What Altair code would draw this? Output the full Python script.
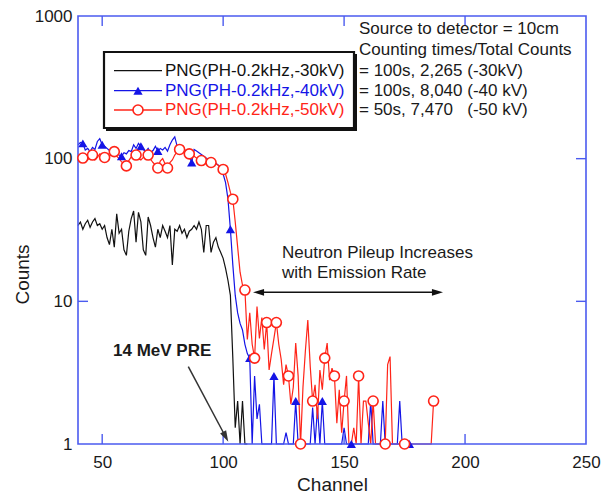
import altair as alt
import pandas as pd

# ---------------- data ----------------
black_ch = list(range(40, 111))
black_counts = [34, 36, 32, 35, 37, 33, 36, 38, 34, 35,
                32, 34, 28, 25, 32, 24, 41, 30, 32, 23,
                21, 31, 38, 43, 26, 42, 36, 23, 21, 39,
                34, 28, 24, 32, 28, 34, 31, 28, 34, 18,
                32, 31, 34, 30, 32, 28, 31, 32, 34, 32,
                36, 32, 22, 34, 34, 22, 26, 28, 24, 22,
                20, 17, 14, 11, 4, 1.3, 2, 1, 2, 1, 1]

blue_ch = list(range(40, 178))
blue_counts = [125, 130, 128, 115, 118, 112, 120, 116, 132, 138,
               125, 122, 118, 114, 110, 112, 108, 106, 104, 110,
               108, 114, 112, 125, 118, 128, 122, 116, 112, 118,
               110, 114, 122, 113, 118, 115, 120, 113, 125, 135,
               142, 122, 125, 118, 116, 110, 104, 94, 116, 113,
               110, 107, 104, 101, 99, 98, 96, 93, 90, 86,
               78, 68, 52, 32, 18, 11, 8.3, 7, 6.3, 5,
               4.3, 4, 1, 3, 1.5, 1.9, 1, 1, 1, 1,
               1, 3, 1, 1, 1, 1, 1.2, 1, 1, 1,
               2, 1, 1, 1, 1, 1, 1, 1.8, 1, 1.8,
               1, 2, 1, 1, 1, 1, 1, 1, 1, 1,
               1.3, 1, 1, 1, 1, 1, 1, 1, 1, 1,
               1, 2, 1, 1, 1, 1, 2, 1, 1, 1,
               1, 1, 1, 2, 1, 1, 1, 1]
blue_marker_ch = [42, 50, 58, 66, 73, 87, 103, 111, 121, 130, 141, 153, 177]

red_ch = list(range(40, 188))
red_counts = [96, 100, 101, 96, 98, 104, 106, 98, 102, 108,
              103, 102, 100, 104, 108, 112, 104, 100, 95, 92,
              89, 97, 103, 106, 106, 100, 98, 102, 104, 106,
              99, 94, 90, 86, 96, 100, 92, 86, 94, 98,
              106, 112, 116, 112, 110, 108, 108, 106, 104, 101,
              98, 97, 96, 96, 95, 94, 93, 92, 90, 87,
              84, 78, 68, 58, 52, 36, 24, 16, 13, 12,
              5.4, 8.3, 5.0, 4.0, 9.2, 5.5, 7.7, 4.6, 7.1, 3.3,
              4.3, 5.5, 7.1, 5.0, 3.9, 2.6, 3.6, 3.0, 1.9, 2.5,
              5.1, 3.0, 1, 2.5, 4.5, 7.4, 3.5, 2.0, 2.6, 1.5,
              3.3, 2.4, 4.0, 5.1, 2.8, 3.4, 3.0, 1.4, 2.4, 1.2,
              2.0, 3.0, 1, 1, 1.3, 1, 3.0, 1, 2.0, 2.0,
              1.4, 1, 2.0, 1, 1, 1, 1, 1, 3.6, 4.1,
              1, 1, 1, 1, 1, 1, 1, 1, 1, 1,
              1, 1, 1, 1, 1, 1, 1, 2.0]
red_marker_ch = [42, 46, 51, 55, 60, 64, 69, 73, 77, 82, 86, 91, 95, 100,
                 104, 109, 113, 118, 122, 127, 132, 137, 142, 146, 150,
                 156, 162, 167, 175, 187]

x_tick_labels = [50, 100, 150, 200, 250]
x_inner_ticks = [50, 100, 150, 200]
y_tick_labels = [1, 10, 100, 1000]
y_inner_ticks = [10, 100]

series_names = ["PNG(PH-0.2kHz,-30kV)", "PNG(PH-0.2kHz,-40kV)", "PNG(PH-0.2kHz,-50kV)"]
count_notes = ["= 100s, 2,265 (-30kV)", "= 100s, 8,040 (-40 kV)",
               "= 50s, 7,470\u00a0\u00a0\u00a0(-50 kV)"]
header_notes = ["Source to detector = 10cm", "Counting times/Total Counts"]

# ---------------- styling ----------------
W, H = 508, 428
FONT = "Liberation Sans"
AXIS_BLUE = "#4b5bef"
C_BLACK = "#111111"
C_BLUE = "#1414e6"
C_RED = "#ff2418"
TXT = "#1a1a1a"
ARROW = "M0,0 L-0.4,1.3 L0.4,1.3 Z"

black_df = pd.DataFrame({"ch": black_ch, "v": black_counts})
blue_df = pd.DataFrame({"ch": blue_ch, "v": blue_counts})
red_df = pd.DataFrame({"ch": red_ch, "v": red_counts})
xt_df = pd.DataFrame({"t": x_inner_ticks})
yt_df = pd.DataFrame({"t": y_inner_ticks})
dummy = pd.DataFrame({"a": [0]})

xscale = alt.Scale(domain=[40, 250], nice=False, zero=False)
yscale = alt.Scale(type="log", domain=[1, 1000], nice=False)
xaxis = alt.Axis(values=x_tick_labels, title="Channel", ticks=False, domain=False, grid=False,
                 labelFontSize=17, labelPadding=10, labelFlush=False, labelFont=FONT,
                 labelColor=TXT, titleFont=FONT, titleFontSize=19, titleFontWeight="normal",
                 titlePadding=5, titleColor=TXT)
yaxis = alt.Axis(values=y_tick_labels, format="d", title="Counts", ticks=False, domain=False,
                 grid=False, labelFontSize=17, labelPadding=6, labelFlush=False, labelFont=FONT,
                 labelColor=TXT, titleFont=FONT, titleFontSize=19, titleFontWeight="normal",
                 titleColor=TXT, titleX=-56, titleY=258, titleAlign="center",
                 titleBaseline="middle", titleAngle=270)

X = alt.X("ch:Q", scale=xscale, axis=xaxis)
Y = alt.Y("v:Q", scale=yscale, axis=yaxis)


def line(df, color):
    return alt.Chart(df).mark_line(color=color, strokeWidth=1.2).encode(x=X, y=Y)


def text(s, x, y, color=TXT, size=17, weight="normal"):
    return alt.Chart(dummy).mark_text(text=s, align="left", baseline="middle", fontSize=size,
                                      font=FONT, color=color, fontWeight=weight).encode(
        x=alt.value(x), y=alt.value(y))


def seg(x1, y1, x2, y2, color, w=1.4):
    return alt.Chart(dummy).mark_rule(color=color, strokeWidth=w).encode(
        x=alt.value(x1), y=alt.value(y1), x2=alt.value(x2), y2=alt.value(y2))


def head(x, y, angle, color):
    return alt.Chart(dummy).mark_point(shape=ARROW, filled=True, color=color, size=289,
                                       angle=angle, opacity=1).encode(
        x=alt.value(x), y=alt.value(y))


layers = [
    line(black_df, C_BLACK),
    line(blue_df, C_BLUE),
    line(red_df, C_RED),
    # frame
    alt.Chart(dummy).mark_rect(filled=False, stroke=AXIS_BLUE, strokeWidth=1.6).encode(
        x=alt.value(0), x2=alt.value(W), y=alt.value(0), y2=alt.value(H)),
    # inner ticks
    alt.Chart(xt_df).mark_rule(color=AXIS_BLUE, strokeWidth=1.4).encode(
        x=alt.X("t:Q", scale=xscale, axis=xaxis), y=alt.value(H), y2=alt.value(H - 10)),
    alt.Chart(xt_df).mark_rule(color=AXIS_BLUE, strokeWidth=1.4).encode(
        x=alt.X("t:Q", scale=xscale, axis=xaxis), y=alt.value(0), y2=alt.value(10)),
    alt.Chart(yt_df).mark_rule(color=AXIS_BLUE, strokeWidth=1.4).encode(
        y=alt.Y("t:Q", scale=yscale, axis=yaxis), x=alt.value(0), x2=alt.value(10)),
    alt.Chart(yt_df).mark_rule(color=AXIS_BLUE, strokeWidth=1.4).encode(
        y=alt.Y("t:Q", scale=yscale, axis=yaxis), x=alt.value(W - 10), x2=alt.value(W)),
    # markers
    alt.Chart(blue_df).transform_filter(
        alt.FieldOneOfPredicate(field="ch", oneOf=blue_marker_ch)).mark_point(
        shape="triangle-up", filled=True, color=C_BLUE, size=85, opacity=1).encode(x=X, y=Y),
    alt.Chart(red_df).transform_filter(
        alt.FieldOneOfPredicate(field="ch", oneOf=red_marker_ch)).mark_point(
        shape="circle", filled=True, fill="white", stroke=C_RED, strokeWidth=1.6, size=100,
        opacity=1).encode(x=X, y=Y),
    # legend box
    alt.Chart(dummy).mark_rect(fill=C_BLACK).encode(
        x=alt.value(28), x2=alt.value(279), y=alt.value(38), y2=alt.value(115)),
    alt.Chart(dummy).mark_rect(fill="white", stroke=C_BLACK, strokeWidth=2.2).encode(
        x=alt.value(26), x2=alt.value(276), y=alt.value(36), y2=alt.value(112)),
    seg(36, 54.7, 84, 54.7, C_BLACK, 1.3),
    seg(36, 74.7, 84, 74.7, C_BLUE, 1.3),
    seg(36, 94, 84, 94, C_RED, 1.3),
    alt.Chart(dummy).mark_point(shape="triangle-up", filled=True, color=C_BLUE, size=85,
                                opacity=1).encode(x=alt.value(60), y=alt.value(74.7)),
    alt.Chart(dummy).mark_point(shape="circle", filled=True, fill="white", stroke=C_RED,
                                strokeWidth=1.6, size=100, opacity=1).encode(
        x=alt.value(60), y=alt.value(94)),
    text(series_names[0], 87, 54.7, C_BLACK),
    text(series_names[1], 87, 74.7, C_BLUE),
    text(series_names[2], 87, 94, C_RED),
    text(header_notes[0], 281, 13.3),
    text(header_notes[1], 281, 34),
    text(count_notes[0], 281, 54.7),
    text(count_notes[1], 281, 74.7),
    text(count_notes[2], 281, 94),
    # annotations
    text("Neutron Pileup Increases", 204, 236.7),
    text("with Emission Rate", 204, 256.7),
    seg(180, 276.3, 360, 276.3, C_BLACK, 1.5),
    head(175, 276.3, 270, C_BLACK),
    head(365, 276.3, 90, C_BLACK),
    text("14 MeV PRE", 35, 334.7, weight="bold"),
    seg(110.3, 350.7, 148, 421.5, "#333333", 1.5),
    head(150.3, 425.7, 152, "#333333"),
]

chart = alt.layer(*layers).properties(
    width=W, height=H,
    padding={"left": 70, "top": 8, "right": 15, "bottom": 52},
    autosize=alt.AutoSizeParams(type="none"),
    background="white",
).configure_view(stroke=None)

chart.save("out.html", embed_options={"renderer": "svg", "actions": False})
